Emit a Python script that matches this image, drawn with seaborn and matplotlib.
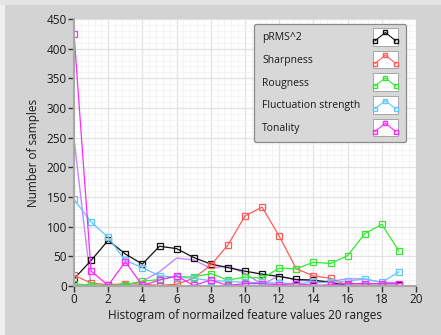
import numpy as np
import pandas as pd
import seaborn as sns
import matplotlib
matplotlib.use("Agg")
import matplotlib.pyplot as plt
from matplotlib.legend_handler import HandlerBase
from matplotlib.patches import Rectangle
from matplotlib.lines import Line2D
from matplotlib.ticker import MultipleLocator

bins = list(range(20))

prms2 = [12, 43, 77, 54, 37, 67, 63, 48, 37, 31, 25, 20, 16, 11, 10, 6, 1, 1, 1, 1]
sharpness = [18, 5, 2, 4, 3, 1, 3, 13, 35, 69, 118, 133, 84, 29, 17, 13, 1, 1, 1, 0]
rougness = [3, 2, 1, 2, 8, 11, 16, 15, 21, 10, 15, 13, 30, 29, 40, 38, 51, 88, 104, 59]
fluctuation = [146, 108, 82, 43, 31, 17, 15, 13, 9, 8, 6, 6, 5, 4, 6, 6, 8, 12, 6, 24]
tonality = [425, 25, 1, 41, 1, 10, 17, 1, 10, 1, 4, 4, 2, 4, 1, 2, 4, 4, 4, 4]
extra = [249, 0, 1, 2, 8, 24, 47, 44, 30, 34, 21, 3, 17, 10, 8, 8, 12, 12, 6, 6]

series_names = ["pRMS^2", "Sharpness", "Rougness", "Fluctuation strength", "Tonality"]
series_values = [prms2, sharpness, rougness, fluctuation, tonality]
series_colors = ["#111111", "#ff5a5a", "#33e833", "#5cc8ff", "#ff28ff"]

x_label = "Histogram of normailzed feature values 20 ranges"
y_label = "Number of samples"

sns.set_style("white")
plt.rcParams["font.family"] = ["Open Sans", "DejaVu Sans"]

fig = plt.figure(figsize=(4.41, 3.35), dpi=100)
fig.patch.set_facecolor("#d3d3d3")
# light frame strips along the top and left edges
fig.patches.append(Rectangle((0, 0), 5 / 441, 1, transform=fig.transFigure,
                             facecolor="#f0f0f0", edgecolor="none", zorder=-1))
fig.patches.append(Rectangle((0, 1 - 5 / 335), 1, 5 / 335, transform=fig.transFigure,
                             facecolor="#e4e4e4", edgecolor="none", zorder=-1))

ax = fig.add_axes([74 / 441, 49 / 335, 342 / 441, 267 / 335])
ax.set_facecolor("white")

# unlabelled trace without markers
sns.lineplot(x=bins, y=extra, ax=ax, color="#c985ff", lw=1.0, legend=False)

handles = []
for name, vals, col in zip(series_names, series_values, series_colors):
    sns.lineplot(x=bins, y=vals, ax=ax, color=col, lw=0.9, marker="s", ms=4.5,
                 markerfacecolor="none", markeredgecolor=col, markeredgewidth=0.9,
                 legend=False)
    handles.append(Line2D([], [], color=col, label=name))

ax.set_xlim(0, 20)
ax.set_ylim(0, 450)
ax.xaxis.set_major_locator(MultipleLocator(2))
ax.xaxis.set_minor_locator(MultipleLocator(0.4))
ax.yaxis.set_major_locator(MultipleLocator(50))
ax.yaxis.set_minor_locator(MultipleLocator(10))
ax.grid(which="major", color="#e2e2e2", lw=0.9)
ax.grid(which="minor", color="#f2f2f2", lw=0.6)
ax.set_axisbelow(True)

for side in ["top", "right"]:
    ax.spines[side].set_visible(False)
for side in ["left", "bottom"]:
    ax.spines[side].set_color("#a8a8a8")
    ax.spines[side].set_linewidth(1.5)

ax.tick_params(which="major", direction="out", length=4, width=1.0, color="#333333",
               labelsize=8.5, labelcolor="#1a1a1a", pad=1, left=True, bottom=True)
ax.tick_params(which="minor", length=0)
ax.set_xlabel(x_label, fontsize=8.5, color="#1a1a1a", labelpad=2)
ax.set_ylabel(y_label, fontsize=8.5, color="#1a1a1a", labelpad=5)


class BoxedLineHandler(HandlerBase):
    def create_artists(self, legend, orig_handle, xdescent, ydescent, width, height,
                       fontsize, trans):
        col = orig_handle.get_color()
        rect = Rectangle((-xdescent, -ydescent - 3), width, height + 6,
                         facecolor="white", edgecolor="#9a9a9a", lw=0.6, transform=trans)
        xs = np.array([0.08, 0.5, 0.92]) * width - xdescent
        ys = np.array([0.05, 0.95, 0.05]) * height - ydescent
        line = Line2D(xs, ys, color=col, lw=0.8, marker="s", ms=2.5,
                      markerfacecolor="none", markeredgecolor=col, transform=trans)
        return [rect, line]


leg = ax.legend(handles=handles, loc="upper right", bbox_to_anchor=(0.985, 1.0),
                markerfirst=False, handler_map={Line2D: BoxedLineHandler()},
                fontsize=7.5, handlelength=2.4, handleheight=1.0, labelspacing=1.1,
                handletextpad=1.2, borderpad=0.75, fancybox=True, framealpha=1)
frame = leg.get_frame()
frame.set_facecolor("#d8d8d8")
frame.set_edgecolor("#8a8a8a")
frame.set_linewidth(0.9)
for t in leg.get_texts():
    t.set_color("#1a1a1a")

# left-align the labels while keeping the icons in one column
fig.canvas.draw()
renderer = fig.canvas.get_renderer()
widths = [t.get_window_extent(renderer).width for t in leg.get_texts()]
wmax = max(widths)
items = [it for col in leg._legend_handle_box.get_children() for it in col.get_children()]
for it, w in zip(items, widths):
    it.sep = it.sep + (wmax - w) * 72.0 / fig.dpi

fig.savefig("out.png", dpi=100, facecolor=fig.get_facecolor())
